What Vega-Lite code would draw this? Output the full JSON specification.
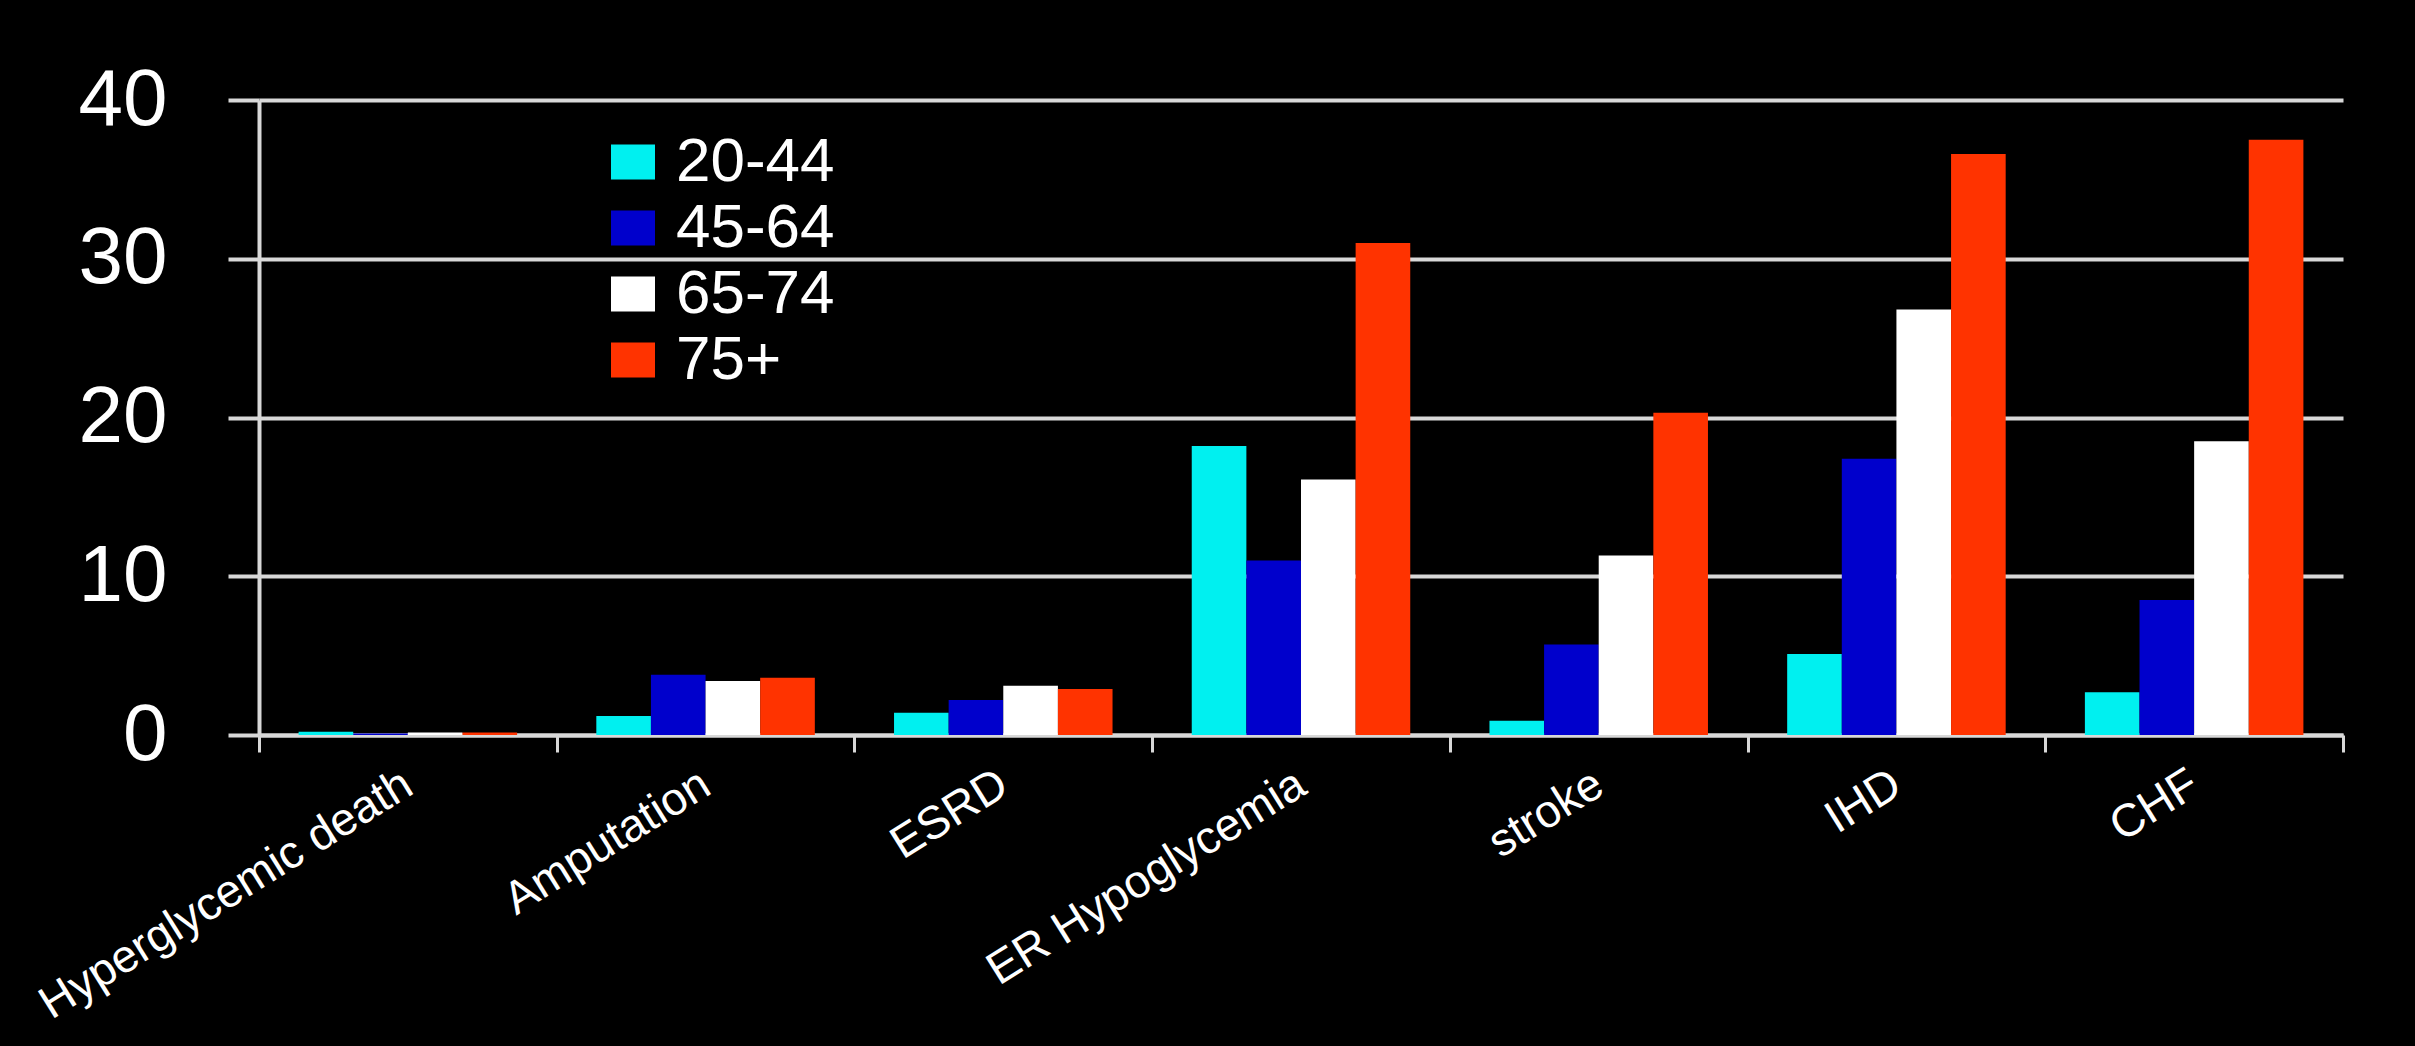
{
  "$schema": "https://vega.github.io/schema/vega-lite/v6.json",
  "width": 2084,
  "height": 635,
  "autosize": {"type": "none"},
  "padding": {"left": 259, "top": 100, "right": 72, "bottom": 311},
  "background": "#000000",
  "data": {
    "values": [
      {"outcome": "Hyperglycemic death", "age": "20-44", "rate": 0.2},
      {"outcome": "Hyperglycemic death", "age": "45-64", "rate": 0.1},
      {"outcome": "Hyperglycemic death", "age": "65-74", "rate": 0.15},
      {"outcome": "Hyperglycemic death", "age": "75+", "rate": 0.15},
      {"outcome": "Amputation", "age": "20-44", "rate": 1.2},
      {"outcome": "Amputation", "age": "45-64", "rate": 3.8},
      {"outcome": "Amputation", "age": "65-74", "rate": 3.4},
      {"outcome": "Amputation", "age": "75+", "rate": 3.6},
      {"outcome": "ESRD", "age": "20-44", "rate": 1.4},
      {"outcome": "ESRD", "age": "45-64", "rate": 2.2},
      {"outcome": "ESRD", "age": "65-74", "rate": 3.1},
      {"outcome": "ESRD", "age": "75+", "rate": 2.9},
      {"outcome": "ER Hypoglycemia", "age": "20-44", "rate": 18.2},
      {"outcome": "ER Hypoglycemia", "age": "45-64", "rate": 11.0},
      {"outcome": "ER Hypoglycemia", "age": "65-74", "rate": 16.1},
      {"outcome": "ER Hypoglycemia", "age": "75+", "rate": 31.0},
      {"outcome": "stroke", "age": "20-44", "rate": 0.9},
      {"outcome": "stroke", "age": "45-64", "rate": 5.7},
      {"outcome": "stroke", "age": "65-74", "rate": 11.3},
      {"outcome": "stroke", "age": "75+", "rate": 20.3},
      {"outcome": "IHD", "age": "20-44", "rate": 5.1},
      {"outcome": "IHD", "age": "45-64", "rate": 17.4},
      {"outcome": "IHD", "age": "65-74", "rate": 26.8},
      {"outcome": "IHD", "age": "75+", "rate": 36.6},
      {"outcome": "CHF", "age": "20-44", "rate": 2.7},
      {"outcome": "CHF", "age": "45-64", "rate": 8.5},
      {"outcome": "CHF", "age": "65-74", "rate": 18.5},
      {"outcome": "CHF", "age": "75+", "rate": 37.5}
    ]
  },
  "mark": {"type": "bar"},
  "encoding": {
    "x": {
      "field": "outcome",
      "type": "nominal",
      "sort": null,
      "scale": {"paddingInner": 0, "paddingOuter": 0},
      "axis": {
        "title": null,
        "labelAngle": -32,
        "labelAlign": "right",
        "labelBaseline": "middle",
        "labelFont": "Liberation Sans",
        "labelFontSize": 46,
        "labelColor": "#ffffff",
        "labelPadding": 28,
        "labelLimit": 0,
        "tickBand": "extent",
        "tickSize": 17,
        "tickWidth": 3,
        "tickColor": "#d8d8d8",
        "domainColor": "#d8d8d8",
        "domainWidth": 4,
        "grid": false,
        "labelOverlap": false
      }
    },
    "xOffset": {"field": "age", "type": "nominal", "sort": ["20-44", "45-64", "65-74", "75+"], "scale": {"paddingInner": 0, "paddingOuter": 0.725}},
    "y": {
      "field": "rate",
      "type": "quantitative",
      "scale": {"domain": [0, 40], "nice": false},
      "axis": {
        "title": null,
        "values": [0, 10, 20, 30, 40],
        "labelFont": "Liberation Sans",
        "labelFontSize": 80,
        "labelColor": "#ffffff",
        "labelPadding": 61,
        "tickSize": 31,
        "tickWidth": 4,
        "tickColor": "#d8d8d8",
        "domainColor": "#d8d8d8",
        "domainWidth": 4,
        "grid": true,
        "gridColor": "#d8d8d8",
        "gridWidth": 4,
        "gridOpacity": 1
      }
    },
    "color": {
      "field": "age",
      "type": "nominal",
      "sort": ["20-44", "45-64", "65-74", "75+"],
      "scale": {"domain": ["20-44", "45-64", "65-74", "75+"], "range": ["#00f0f0", "#0000cc", "#ffffff", "#ff3300"]},
      "legend": {
        "title": null,
        "orient": "none",
        "legendX": 343,
        "legendY": 31,
        "symbolType": "M-1,-0.8H1V0.8H-1Z",
        "symbolSize": 1936,
        "symbolStrokeWidth": 0,
        "labelFont": "Liberation Sans",
        "labelFontSize": 62,
        "labelColor": "#ffffff",
        "labelOffset": 12,
        "labelLimit": 0,
        "rowPadding": 4
      }
    }
  },
  "config": {"view": {"stroke": null}}
}
